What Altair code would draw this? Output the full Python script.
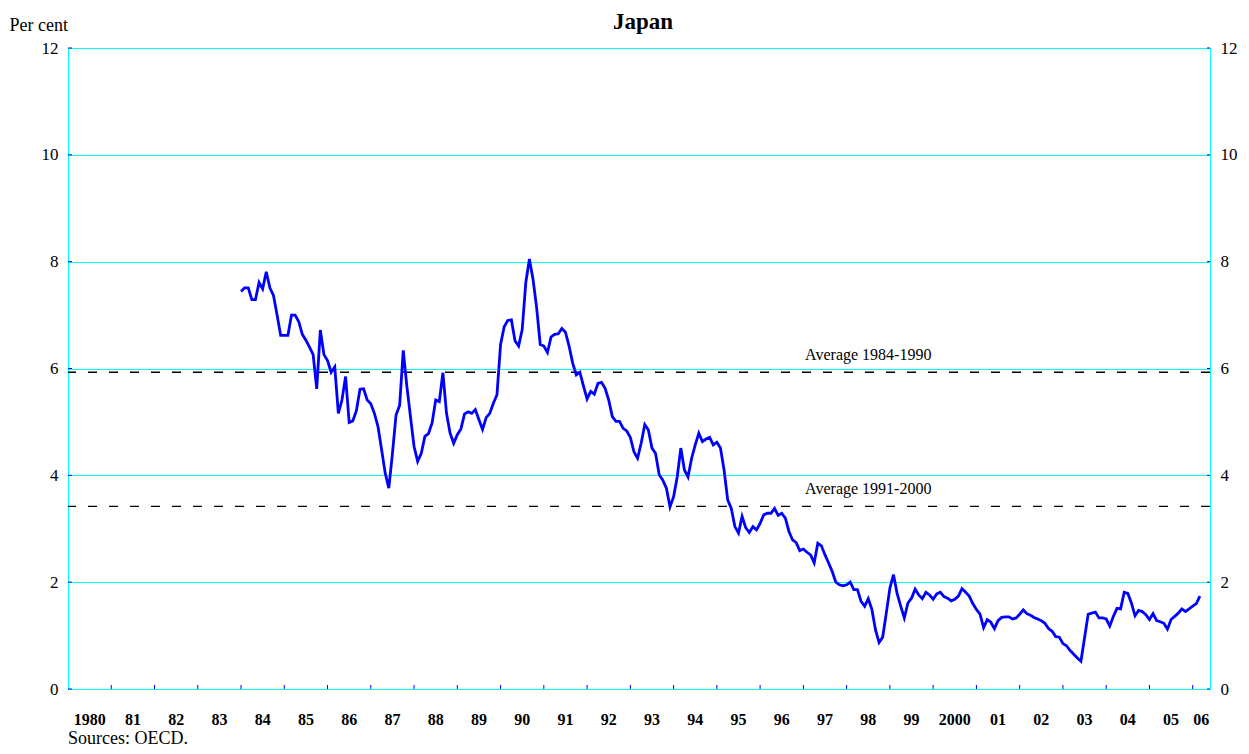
import altair as alt
import pandas as pd

# ---------------- data ----------------
start_year = 1984  # first monthly observation: January 1984
rates = [
    # 1984
    7.44, 7.51, 7.51, 7.29, 7.29, 7.61, 7.49, 7.81, 7.51, 7.37, 7.00, 6.62,
    # 1985
    6.62, 6.62, 7.00, 7.00, 6.88, 6.64, 6.53, 6.40, 6.26, 5.62, 6.72, 6.26,
    # 1986
    6.15, 5.93, 6.03, 5.16, 5.41, 5.85, 4.99, 5.02, 5.21, 5.61, 5.62, 5.41,
    # 1987
    5.34, 5.16, 4.91, 4.48, 4.04, 3.76, 4.41, 5.13, 5.31, 6.34, 5.67, 5.10,
    # 1988
    4.54, 4.26, 4.41, 4.73, 4.78, 4.98, 5.41, 5.38, 5.92, 5.16, 4.79, 4.60,
    # 1989
    4.76, 4.87, 5.15, 5.19, 5.16, 5.23, 5.04, 4.86, 5.08, 5.16, 5.35, 5.51,
    # 1990
    6.45, 6.78, 6.90, 6.91, 6.52, 6.42, 6.73, 7.61, 8.05, 7.67, 7.14, 6.45,
    # 1991
    6.42, 6.30, 6.59, 6.64, 6.65, 6.75, 6.68, 6.42, 6.10, 5.88, 5.93, 5.67,
    # 1992
    5.43, 5.57, 5.52, 5.72, 5.74, 5.63, 5.41, 5.10, 5.01, 5.01, 4.88, 4.83,
    # 1993
    4.71, 4.44, 4.32, 4.60, 4.95, 4.85, 4.51, 4.41, 4.01, 3.91, 3.76, 3.41,
    # 1994
    3.60, 3.97, 4.51, 4.10, 3.97, 4.32, 4.57, 4.79, 4.63, 4.68, 4.71, 4.57,
    # 1995
    4.62, 4.51, 4.10, 3.54, 3.38, 3.04, 2.92, 3.23, 3.02, 2.93, 3.04, 2.98,
    # 1996
    3.10, 3.26, 3.29, 3.29, 3.38, 3.25, 3.29, 3.20, 2.95, 2.79, 2.74, 2.59,
    # 1997
    2.62, 2.56, 2.51, 2.36, 2.73, 2.68, 2.51, 2.36, 2.20, 2.00, 1.95, 1.93,
    # 1998
    1.95, 2.00, 1.86, 1.86, 1.64, 1.55, 1.69, 1.49, 1.11, 0.87, 0.97, 1.42,
    # 1999
    1.89, 2.14, 1.79, 1.55, 1.33, 1.61, 1.70, 1.87, 1.76, 1.69, 1.81, 1.76,
    # 2000
    1.68, 1.78, 1.81, 1.73, 1.70, 1.65, 1.68, 1.74, 1.88, 1.81, 1.74, 1.60,
    # 2001
    1.49, 1.40, 1.15, 1.30, 1.25, 1.13, 1.28, 1.34, 1.35, 1.35, 1.31, 1.33,
    # 2002
    1.40, 1.48, 1.41, 1.38, 1.34, 1.31, 1.28, 1.23, 1.13, 1.08, 0.98, 0.97,
    # 2003
    0.85, 0.81, 0.72, 0.65, 0.58, 0.52, 0.96, 1.40, 1.42, 1.44, 1.33, 1.33,
    # 2004
    1.31, 1.18, 1.36, 1.51, 1.50, 1.81, 1.79, 1.61, 1.37, 1.47, 1.45, 1.39,
    # 2005
    1.30, 1.41, 1.28, 1.26, 1.23, 1.12, 1.30, 1.36, 1.42, 1.50, 1.45, 1.50,
    # 2006
    1.55, 1.60, 1.74,
]

avg_labels = ["Average 1984-1990", "Average 1991-2000"]
avg_values = [5.93, 3.42]

year_labels = ["1980", "81", "82", "83", "84", "85", "86", "87", "88", "89",
               "90", "91", "92", "93", "94", "95", "96", "97", "98", "99",
               "2000", "01", "02", "03", "04", "05", "06"]
y_ticks = [0, 2, 4, 6, 8, 10, 12]

title_text = ["Japan"]
source_text = ["Sources: OECD."]

x_min, x_max = 1980, 2006.4
avg_label_year = 1998.5

# ---------------- layout / style ----------------
W, H = 1142, 641
FONT = "Liberation Serif"
BLUE = "#0000FF"
CYAN = "#00FFFF"

df = pd.DataFrame({"t": [start_year + i / 12 for i in range(len(rates))], "y": rates})
label_pos = [1980 + i + 0.5 for i in range(26)] + [(2006 + x_max) / 2]
lab_df = pd.DataFrame({"t": label_pos, "label": year_labels})
xtick_df = pd.DataFrame({"t": list(range(1981, 2007))})
avg_df = pd.DataFrame({"y": avg_values, "label": avg_labels,
                       "t": [avg_label_year] * len(avg_values)})
ytick_df = pd.DataFrame({"y": y_ticks})
title_df = pd.DataFrame({"s": title_text})
source_df = pd.DataFrame({"s": source_text})

xscale = alt.Scale(domain=[x_min, x_max], nice=False, zero=False)
yscale = alt.Scale(domain=[0, 12], nice=False, zero=True)

x_plain = alt.X("t:Q", scale=xscale, axis=None)

y_left = alt.Y("y:Q", scale=yscale, axis=alt.Axis(
    orient="left", values=y_ticks, grid=True, gridColor=CYAN, gridWidth=1, gridOpacity=1,
    domain=True, domainColor=CYAN, domainWidth=1, ticks=False, tickSize=0, labelPadding=10,
    labelFont=FONT, labelFontSize=17, labelColor="black",
    title="Per cent", titleAngle=0, titleX=-59, titleY=-18, titleAlign="left",
    titleBaseline="alphabetic", titleFont=FONT, titleFontSize=18,
    titleFontWeight="normal", titleColor="black"))
y_right = alt.Y("y:Q", scale=yscale, axis=alt.Axis(
    orient="right", values=y_ticks, grid=False, domain=True, domainColor=CYAN, domainWidth=1,
    ticks=False, tickSize=0, labelPadding=10, labelFont=FONT, labelFontSize=17,
    labelColor="black", title=None))
y_plain = alt.Y("y:Q", scale=yscale, axis=None)

avg_rules = alt.Chart(avg_df).mark_rule(color="black", strokeWidth=1.3, strokeDash=[9, 12]).encode(
    y=y_plain)
avg_text = alt.Chart(avg_df).mark_text(font=FONT, fontSize=16, color="black", align="center",
                                       baseline="alphabetic", dy=-12).encode(
    x=x_plain, y=y_plain, text="label:N")
line = alt.Chart(df).mark_line(color=BLUE, strokeWidth=2.8).encode(x=x_plain, y=y_left)
xticks = alt.Chart(xtick_df).mark_rule(color=BLUE, strokeWidth=1).encode(
    x=x_plain, y=alt.value(H - 4), y2=alt.value(H))
yticks_left = alt.Chart(ytick_df).mark_rule(color=BLUE, strokeWidth=1).encode(
    y=y_plain, x=alt.value(0), x2=alt.value(4))
yticks_right = alt.Chart(ytick_df).mark_rule(color=BLUE, strokeWidth=1).encode(
    y=y_right, x=alt.value(W - 3), x2=alt.value(W))
xlabels = alt.Chart(lab_df).mark_text(font=FONT, fontSize=16, fontWeight="bold", color="black",
                                      baseline="middle", align="center").encode(
    x=x_plain, y=alt.value(H + 31), text="label:N")
title = alt.Chart(title_df).mark_text(font=FONT, fontSize=23, fontWeight="bold", color="black",
                                      align="center", baseline="alphabetic").encode(
    x=alt.value(W / 2 + 4), y=alt.value(-19), text="s:N")
source = alt.Chart(source_df).mark_text(font=FONT, fontSize=18, color="black",
                                        align="left", baseline="alphabetic").encode(
    x=alt.value(0), y=alt.value(H + 55), text="s:N")

chart = alt.layer(
    avg_rules, avg_text, line, xticks, yticks_left, yticks_right, xlabels, title, source
).resolve_axis(y="independent").properties(
    width=W, height=H,
    autosize=alt.AutoSizeParams(type="none"),
    padding={"left": 60, "top": 40, "right": 28, "bottom": 64},
).configure(
    background="white", font=FONT
).configure_axis(
    labelFont=FONT, titleFont=FONT
).configure_view(stroke=CYAN, strokeWidth=1)

chart.save("out.html", embed_options={"renderer": "svg", "actions": False})
